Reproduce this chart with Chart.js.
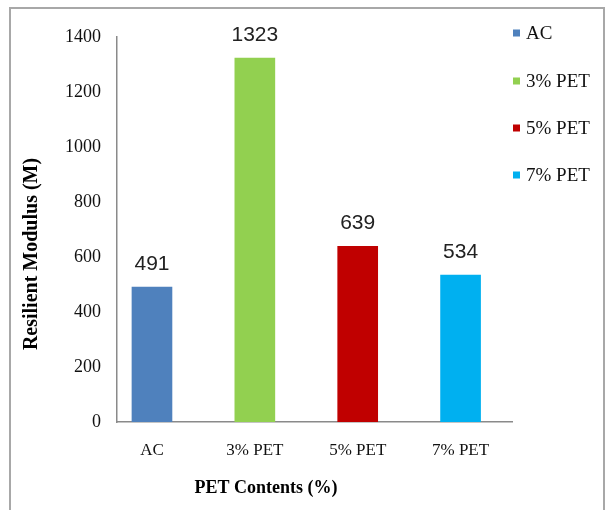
<!DOCTYPE html>
<html>
<head>
<meta charset="utf-8">
<script src="https://cdn.jsdelivr.net/npm/chart.js@4"></script>
<style>
  html, body { margin: 0; padding: 0; background: #fff; }
  #wrap { position: relative; width: 609px; height: 510px; overflow: hidden; }
  #frame { position: absolute; left: 9px; top: 7px; width: 596px; height: 530px;
           border: 2px solid #a8a8a8; box-sizing: border-box; }
  #chart { position: absolute; left: 0; top: 0; }
</style>
</head>
<body>
<div id="wrap">
  <div id="frame"></div>
  <canvas id="chart" width="609" height="510"></canvas>
</div>
<script>
// данные с картинки
const categories = ["AC", "3% PET", "5% PET", "7% PET"];
const modulus = [491, 1323, 639, 534];
const barColors = ["#4F81BD", "#92D050", "#C00000", "#00B0F0"];
const yTicks = [0, 200, 400, 600, 800, 1000, 1200, 1400];

const SERIF = "'Liberation Serif', 'Times New Roman', serif";
const SANS = "'Liberation Sans', Arial, sans-serif";

// подписи значений над столбиками
const valueLabels = {
  id: "valueLabels",
  afterDatasetsDraw(chart) {
    const ctx = chart.ctx;
    const meta = chart.getDatasetMeta(0);
    ctx.save();
    ctx.font = "21px " + SANS;
    ctx.fillStyle = "#222";
    ctx.textAlign = "center";
    ctx.textBaseline = "middle";
    meta.data.forEach((bar, i) => {
      ctx.fillText(String(modulus[i]), bar.x, bar.y - 23);
    });
    ctx.restore();
  }
};

// заголовки осей и легенда справа
const extras = {
  id: "extras",
  afterDraw(chart) {
    const ctx = chart.ctx;
    ctx.save();
    ctx.fillStyle = "#000";
    ctx.textAlign = "center";
    ctx.textBaseline = "middle";
    ctx.font = "bold 18px " + SERIF;
    ctx.fillText("PET Contents (%)", 266, 488);
    ctx.font = "bold 20px " + SERIF;
    ctx.translate(32, 254);
    ctx.rotate(-Math.PI / 2);
    ctx.fillText("Resilient Modulus (M)", 0, 0);
    ctx.restore();

    ctx.save();
    ctx.font = "19px " + SERIF;
    ctx.textAlign = "left";
    ctx.textBaseline = "middle";
    const ys = [33, 81, 128, 175];
    categories.forEach((c, i) => {
      ctx.fillStyle = barColors[i];
      ctx.fillRect(513, ys[i] - 3.5, 7, 7);
      ctx.fillStyle = "#111";
      ctx.fillText(c, 526, ys[i] + 1);
    });
    ctx.restore();
  }
};

new Chart(document.getElementById("chart"), {
  type: "bar",
  data: {
    datasets: [{
      data: modulus.map((v, i) => ({ x: i, y: v })),
      backgroundColor: barColors,
      borderWidth: 0,
      barThickness: 40,
    }],
  },
  options: {
    responsive: false,
    animation: false,
    layout: { padding: { left: 0, top: 37, right: 97, bottom: 0 } },
    plugins: { legend: { display: false }, tooltip: { enabled: false } },
    scales: {
      x: {
        type: "linear",
        offset: false,
        min: -0.34,
        max: 3.5,
        grid: { display: false, drawTicks: false, offset: false },
        border: { display: true, color: "#8a8a8a", width: 1.5 },
        afterBuildTicks: (s) => { s.ticks = categories.map((c, i) => ({ value: i })); },
        afterFit: (s) => { s.height = 88; },
        ticks: {
          padding: 18,
          color: "#111",
          font: { family: SERIF, size: 17 },
          callback: (v) => categories[v],
        },
      },
      y: {
        min: 0,
        max: 1400,
        grid: { display: false, drawTicks: false },
        border: { display: true, color: "#8a8a8a", width: 1.5 },
        afterBuildTicks: (s) => { s.ticks = yTicks.map((v) => ({ value: v })); },
        afterFit: (s) => { s.width = 117; },
        ticks: {
          padding: 16,
          color: "#111",
          font: { family: SERIF, size: 18 },
          callback: (v) => String(v),
        },
      },
    },
  },
  plugins: [valueLabels, extras],
});
</script>
</body>
</html>
